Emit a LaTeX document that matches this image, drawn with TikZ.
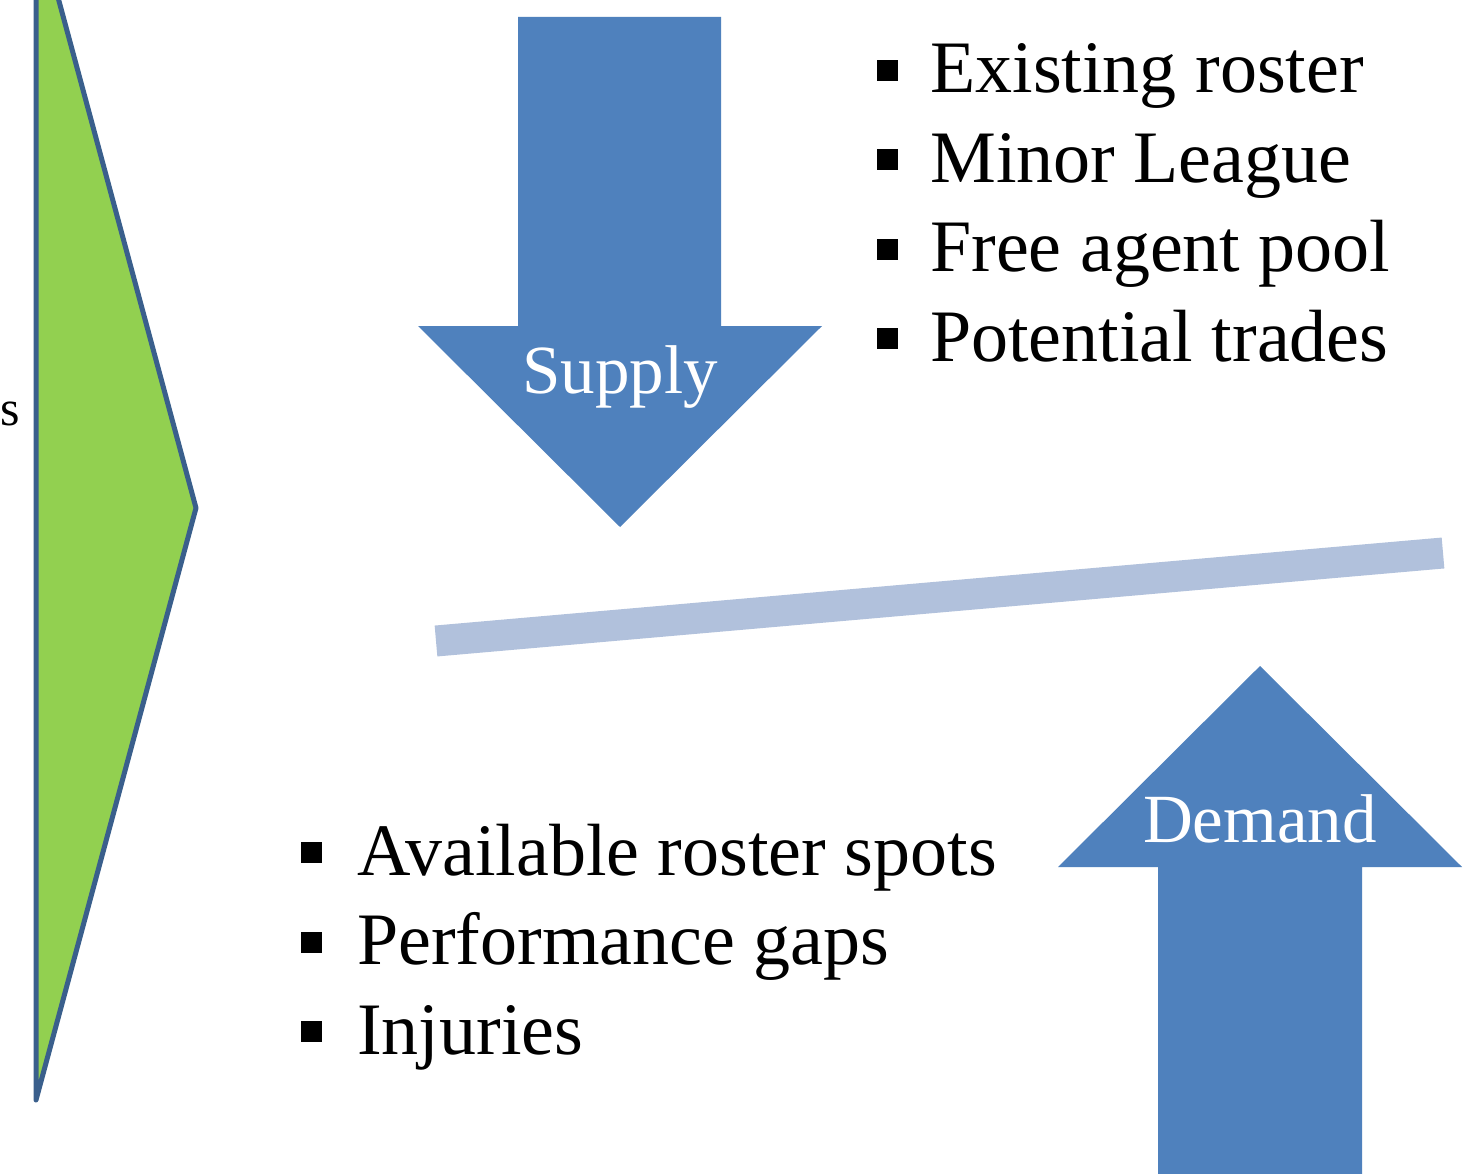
\documentclass[tikz,border=0pt]{standalone}
\usepackage{fontspec}
\setmainfont{Liberation Serif}

\definecolor{arrowblue}{HTML}{4F81BD}
\definecolor{leafgreen}{HTML}{92D050}
\definecolor{edgeblue}{HTML}{3A5F8C}
\definecolor{barblue}{HTML}{B1C1DC}

\newcommand{\blt}{\rule[12pt]{21pt}{21pt}}

\begin{document}
\begin{tikzpicture}[x=1pt,y=-1pt]
\tikzstyle{every node} = [inner sep=0pt]
\tikzstyle{bigarrow} = [fill=arrowblue]
\tikzstyle{arrowtext} = [text=white, anchor=base, font=\fontsize{69}{80}\selectfont]
\tikzstyle{bullets} = [anchor=base west, font=\fontsize{74}{89.5}\selectfont]

\clip (0,0) rectangle (1471,1174);
\fill[white] (0,0) rectangle (1471,1174);

% triangolo a sinistra
\draw[fill=leafgreen, draw=edgeblue, line width=5pt, line join=round]
  (36,-84) -- (196,508) -- (36,1100) -- cycle;
\node[anchor=base west, font=\fontsize{50}{56}\selectfont] (cut) at (0.5,425) {s};

% freccia in basso
\fill[bigarrow] (518,17) -- (721,17) -- (721,326) -- (822,326)
  -- (620,527) -- (418,326) -- (518,326) -- cycle;
\node[arrowtext] (supply) at (620,393) {Supply};

% freccia in alto
\fill[bigarrow] (1158,1190) -- (1158,867) -- (1058,867) -- (1260,666)
  -- (1462,867) -- (1362,867) -- (1362,1190) -- cycle;
\node[arrowtext] (demand) at (1260,842) {Demand};

% barra
\coordinate (barL) at (436,641);
\coordinate (barR) at (1443,553);
\draw[barblue, line width=31pt] (barL) -- (barR);

% elenchi
\node[bullets] (sources) at (877,93) {
  \begin{tabular}[t]{@{}l@{\hspace{32pt}}l@{}}
  \blt & Existing roster\\
  \blt & Minor League\\
  \blt & Free agent pool\\
  \blt & Potential trades\\
  \end{tabular}
};

\node[bullets] (needs) at (301,875) {
  \begin{tabular}[t]{@{}l@{\hspace{35pt}}l@{}}
  \blt & Available roster spots\\
  \blt & Performance gaps\\
  \blt & Injuries\\
  \end{tabular}
};

\end{tikzpicture}
\end{document}
